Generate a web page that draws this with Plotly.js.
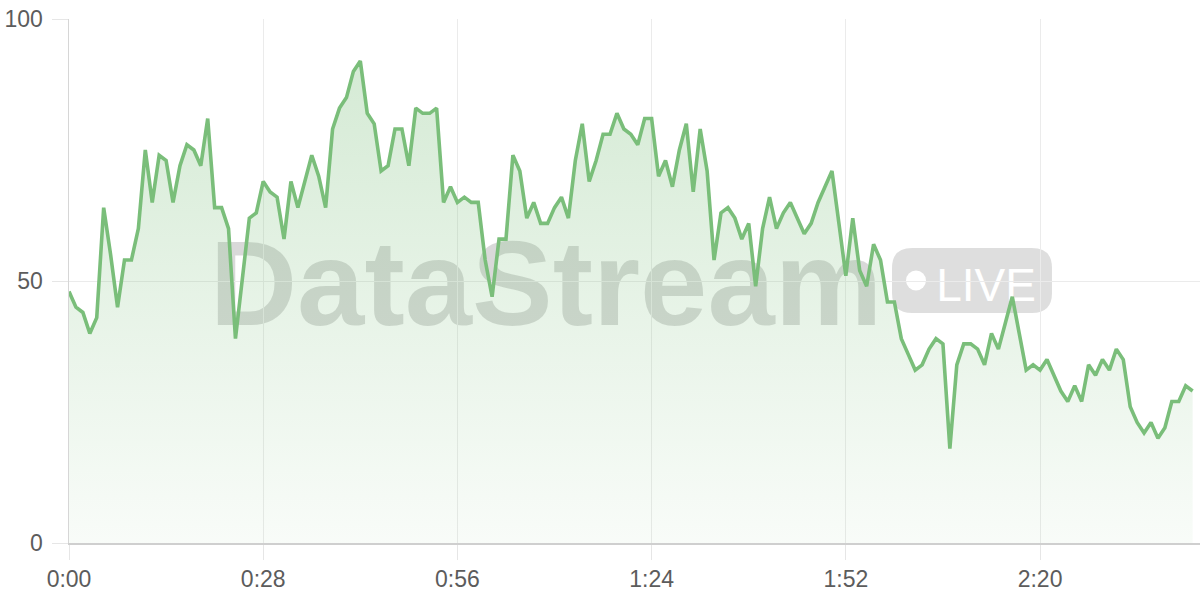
<!DOCTYPE html>
<html>
<head>
<meta charset="utf-8">
<script src="https://cdn.plot.ly/plotly-3.0.1.min.js"></script>
<style>
  html, body { margin: 0; padding: 0; background: #ffffff; }
  #chart { width: 1200px; height: 600px; }
</style>
</head>
<body>
<div id="chart"></div>
<script>
// ---- data (one reading per second) ----
const values = [
  48,45,44,40,43,64,55,45,54,54,60,75,65,74,73,65,72,76,75,72,
  81,64,64,60,39,50,62,63,69,67,66,58,69,64,69,74,70,64,79,83,
  85,90,92,82,80,71,72,79,79,72,83,82,82,83,65,68,65,66,65,65,
  54,47,58,58,74,71,62,65,61,61,64,66,62,73,80,69,73,78,78,82,
  79,78,76,81,81,70,73,68,75,80,67,79,71,54,63,64,62,58,61,49,
  60,66,60,63,65,62,59,61,65,68,71,61,51,62,52,49,57,54,46,46,
  39,36,33,34,37,39,38,18,34,38,38,37,34,40,37,42,47,40,33,34,
  33,35,32,29,27,30,27,34,32,35,33,37,35,26,23,21,23,20,22,27,
  27,30,29
];
const seconds = values.map((_, i) => i);
const tickVals = [0, 28, 56, 84, 112, 140];
const tickText = ['0:00', '0:28', '0:56', '1:24', '1:52', '2:20'];
const yTicks = [0, 50, 100];

// ---- layout helpers (decoration placement in pixels -> paper) ----
const L = 69, T = 19, W = 1131, H = 524;
const px = x => (x - L) / W;
const py = y => (T + H - y) / H;
function roundRect(x0, y0, x1, y1, r) {
  const P = (x, y) => px(x).toFixed(5) + ',' + py(y).toFixed(5);
  return `M${P(x0 + r, y0)} L${P(x1 - r, y0)} Q${P(x1, y0)} ${P(x1, y0 + r)} ` +
         `L${P(x1, y1 - r)} Q${P(x1, y1)} ${P(x1 - r, y1)} L${P(x0 + r, y1)} ` +
         `Q${P(x0, y1)} ${P(x0, y1 - r)} L${P(x0, y0 + r)} Q${P(x0, y0)} ${P(x0 + r, y0)} Z`;
}

const lineColor = 'rgb(122,190,122)';

const trace = {
  x: seconds,
  y: values,
  type: 'scatter',
  mode: 'lines',
  line: { color: lineColor, width: 3.6 },
  fill: 'tozeroy',
  fillgradient: {
    type: 'vertical',
    start: 0,
    stop: 100,
    colorscale: [[0, 'rgba(122,190,122,0.05)'], [1, 'rgba(122,190,122,0.34)']]
  },
  hoverinfo: 'skip'
};

const tickFont = { family: 'Liberation Sans, Arial, sans-serif', size: 23, color: '#5c5c5c' };

const layout = {
  width: 1200,
  height: 600,
  margin: { l: L, r: 0, t: T, b: 600 - T - H },
  paper_bgcolor: '#ffffff',
  plot_bgcolor: '#ffffff',
  showlegend: false,
  hovermode: false,
  xaxis: {
    range: [0, W / 6.936],
    tickmode: 'array',
    tickvals: tickVals,
    ticktext: tickText,
    showgrid: true,
    gridcolor: '#ebebeb',
    gridwidth: 1,
    zeroline: false,
    showline: true,
    linecolor: '#cfcfcf',
    linewidth: 1.5,
    ticks: 'outside',
    ticklen: 15,
    tickcolor: '#e6e6e6',
    tickfont: tickFont,
    fixedrange: true
  },
  yaxis: {
    range: [0, 100],
    tickmode: 'array',
    tickvals: yTicks,
    showgrid: true,
    gridcolor: '#ebebeb',
    gridwidth: 1,
    zeroline: false,
    showline: true,
    linecolor: '#d6d6d6',
    linewidth: 1.5,
    ticks: 'outside',
    ticklen: 16,
    tickcolor: '#e6e6e6',
    tickfont: tickFont,
    ticklabelstandoff: 4,
    fixedrange: true
  },
  shapes: [
    {
      type: 'path', xref: 'paper', yref: 'paper', layer: 'below',
      path: roundRect(892, 248, 1052, 313, 20),
      fillcolor: 'rgba(0,0,0,0.13)', line: { width: 0 }
    },
    {
      type: 'circle', xref: 'paper', yref: 'paper', layer: 'below',
      x0: px(906), x1: px(926), y0: py(290.5), y1: py(270.5),
      fillcolor: '#ffffff', line: { width: 0 }
    },
    {
      type: 'rect', xref: 'paper', yref: 'paper', layer: 'below',
      x0: px(200), x1: px(892), y0: py(322), y1: py(222),
      fillcolor: 'rgba(0,0,0,0)', line: { width: 0 },
      label: {
        text: '<b>DataStream</b>',
        textposition: 'middle center',
        font: { family: 'Liberation Sans, Arial, sans-serif', size: 121, color: 'rgba(0,0,0,0.15)' }
      }
    },
    {
      type: 'rect', xref: 'paper', yref: 'paper', layer: 'below',
      x0: px(936), x1: px(1036), y0: py(305), y1: py(256),
      fillcolor: 'rgba(0,0,0,0)', line: { width: 0 },
      label: {
        text: 'LIVE',
        textposition: 'middle center',
        font: { family: 'Liberation Sans, Arial, sans-serif', size: 46, color: '#ffffff' }
      }
    }
  ]
};

Plotly.newPlot('chart', [trace], layout, { displayModeBar: false, staticPlot: true });
</script>
</body>
</html>
